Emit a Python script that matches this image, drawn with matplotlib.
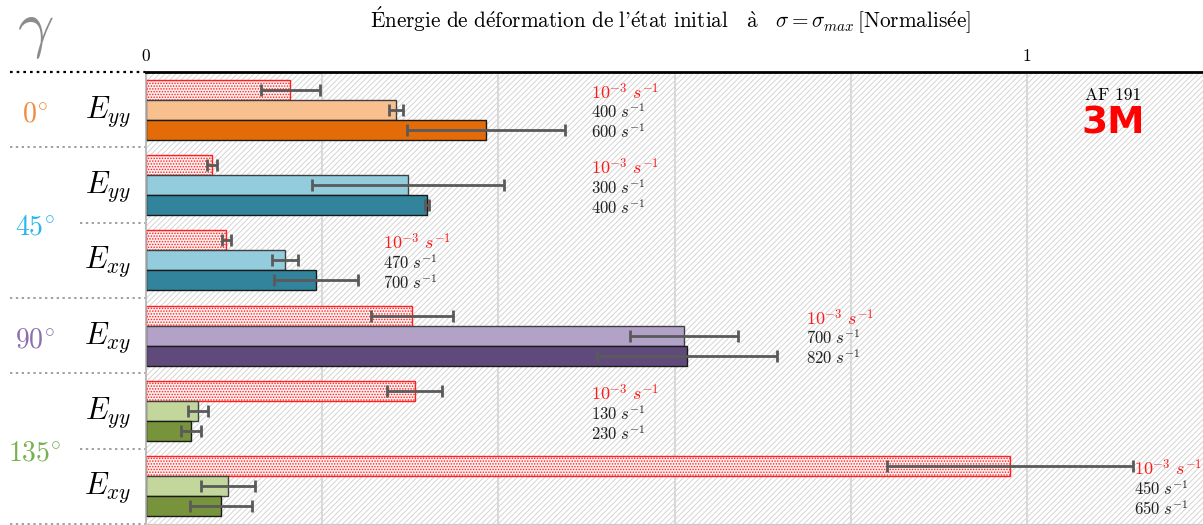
import matplotlib
matplotlib.use("Agg")
import matplotlib.pyplot as plt
import matplotlib.transforms as mtrans
from matplotlib.patches import Rectangle
import numpy as np

plt.rcParams['font.family'] = ['cmr10', 'DejaVu Serif']
plt.rcParams['mathtext.fontset'] = 'cm'
plt.rcParams['axes.unicode_minus'] = False
plt.rcParams['hatch.linewidth'] = 0.7

# --- data -------------------------------------------------------------
angles = [r"$0^{\circ}$", r"$45^{\circ}$", r"$90^{\circ}$", r"$135^{\circ}$"]
angle_colors = ["#f08a3c", "#29b6ea", "#8b6fae", "#77b04c"]
components = ["E_{yy}", "E_{yy}", "E_{xy}", "E_{xy}", "E_{yy}", "E_{xy}"]
group_angle = [0, 1, 1, 2, 3, 3]

quasi_static = [0.164, 0.075, 0.091, 0.302, 0.305, 0.981]
quasi_static_err = [0.033, 0.006, 0.005, 0.047, 0.031, 0.140]
rate_low = [0.284, 0.297, 0.158, 0.611, 0.059, 0.093]
rate_low_err = [0.008, 0.109, 0.015, 0.061, 0.011, 0.031]
rate_high = [0.386, 0.319, 0.193, 0.614, 0.051, 0.085]
rate_high_err = [0.090, 0.002, 0.048, 0.102, 0.011, 0.035]

rates_low = ["400", "300", "470", "700", "130", "450"]
rates_high = ["600", "400", "700", "820", "230", "650"]

light_colors = ["#f9c08f", "#93cddd", "#93cddd", "#b3a2c7", "#c3d69b", "#c3d69b"]
dark_colors = ["#e36c09", "#31849b", "#31849b", "#604a7b", "#77933c", "#77933c"]

note_x = [0.505, 0.505, 0.269, 0.749, 0.505, 1.122]

# --- figure -----------------------------------------------------------
fig = plt.figure(figsize=(12.03, 5.25), dpi=100)
ax = fig.add_axes([146 / 1203, 1 / 525, 1 - 146 / 1203, 452 / 525])

n = len(quasi_static)
yc = np.arange(n) + 0.5
bh = 0.265

# hatched background
ax.add_patch(Rectangle((0, 0), 1, 1, transform=ax.transAxes, facecolor="white",
                       edgecolor="#d4d4d4", hatch="//////", linewidth=0, zorder=0))
for gx in [0.2, 0.4, 0.6, 0.8, 1.0]:
    ax.axvline(gx, color="#d9d9d9", lw=1.5, zorder=1)

err_kw = dict(ecolor="#5a5a5a", elinewidth=2, capsize=4, capthick=2)

ax.barh(yc - bh, quasi_static, height=bh, color="#fff0f0", edgecolor="#ff2020",
        hatch="......", linewidth=1.0, zorder=2)
ax.errorbar(quasi_static, yc - bh, xerr=quasi_static_err, fmt="none", zorder=4, **err_kw)

ax.barh(yc, rate_low, height=bh, color=light_colors, edgecolor="#404040",
        linewidth=1.0, zorder=2)
ax.errorbar(rate_low, yc, xerr=rate_low_err, fmt="none", zorder=4, **err_kw)

ax.barh(yc + bh, rate_high, height=bh, color=dark_colors, edgecolor="#1a1a1a",
        linewidth=1.0, zorder=2)
ax.errorbar(rate_high, yc + bh, xerr=rate_high_err, fmt="none", zorder=4, **err_kw)

# strain-rate annotations
for i in range(n):
    ax.text(note_x[i], yc[i] - bh + 0.03, r"$10^{-3}\ s^{-1}$", color="#ff1a1a",
            fontsize=13, va="center", ha="left", zorder=5)
    ax.text(note_x[i], yc[i] + 0.03, rf"${rates_low[i]}\ s^{{-1}}$", color="#222222",
            fontsize=12, va="center", ha="left", zorder=5)
    ax.text(note_x[i], yc[i] + bh + 0.03, rf"${rates_high[i]}\ s^{{-1}}$", color="#222222",
            fontsize=12, va="center", ha="left", zorder=5)

ax.set_xlim(0, 1.2)
ax.set_ylim(n, 0)
ax.set_yticks([])
ax.xaxis.tick_top()
ax.set_xticks([0, 1])
ax.set_xticklabels(["0", "1"], fontsize=12.5)
ax.tick_params(axis="x", length=0, pad=6)

ax.spines["right"].set_visible(False)
ax.spines["top"].set_linewidth(2)
ax.spines["top"].set_color("black")
ax.spines["left"].set_color("#b0b0b0")
ax.spines["left"].set_linewidth(1.2)
ax.spines["bottom"].set_color("#c8c8c8")

title = (r"$\mathrm{\acute{E}nergie\ de\ d\acute{e}formation\ de\ l}$'"
         r"$\mathrm{\acute{e}tat\ initial\ \ \ \grave{a}}\ \ \ \sigma = \sigma_{max}\,$"
         r"$\mathrm{[Normalis\acute{e}e]}$")
fig.text(670 / 1203, 1 - 20 / 525, title, ha="center", va="center", fontsize=15.3)

# brand tag
ax.text(1.098, 0.31, "AF 191", ha="center", va="center", fontsize=12.5, zorder=5)
ax.text(1.098, 0.68, "3M", ha="center", va="center", fontsize=27, color="#ff0000",
        fontweight="bold", family="DejaVu Sans", zorder=5)

# left-hand labels
fig.text(35 / 1203, 1 - 32 / 525, r"$\gamma$", color="#8c8c8c", fontsize=46,
         ha="center", va="center")

tr = mtrans.blended_transform_factory(fig.transFigure, ax.transData)
angle_rows = {}
for i, a in enumerate(group_angle):
    angle_rows.setdefault(a, []).append(yc[i])
for a, rows in angle_rows.items():
    fig.text(35 / 1203, float(np.mean(rows)) + 0.06, angles[a], transform=tr,
             color=angle_colors[a], fontsize=20, ha="center", va="center")

for i, comp in enumerate(components):
    fig.text(108 / 1203, yc[i] + 0.02, rf"${comp}$", transform=tr, fontsize=22,
             ha="center", va="center")

# separators on the left
for b in range(n + 1):
    same_angle = 0 < b < n and group_angle[b - 1] == group_angle[b]
    x0 = 80 / 1203 if same_angle else 10 / 1203
    color = "black" if b == 0 else "#a0a0a0"
    ax.plot([x0, 145 / 1203], [b, b], transform=tr, ls=(0, (1.2, 1.8)),
            lw=1.6 if b == 0 else 1.4, color=color, clip_on=False)

fig.savefig("out.png", dpi=100)
